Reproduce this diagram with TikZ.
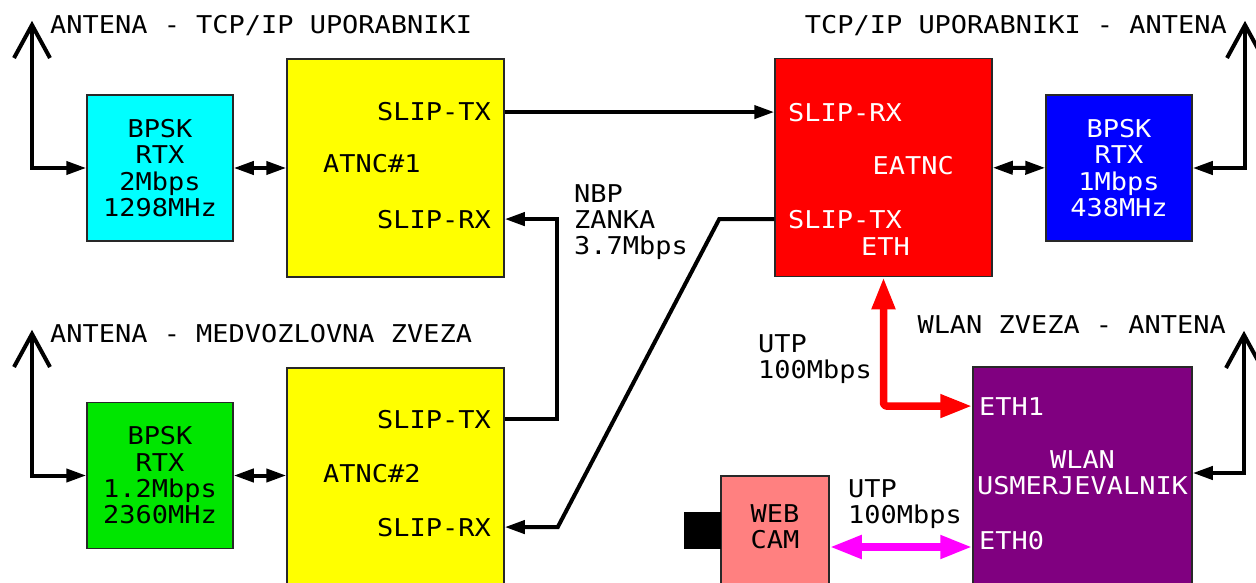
\documentclass[tikz,border=0pt]{standalone}
\usepackage{fontspec}
\setmonofont[FakeStretch=1.1]{DejaVu Sans Mono}
\usetikzlibrary{arrows.meta,calc}
\definecolor{rtxcyan}{RGB}{0,255,255}
\definecolor{tncyellow}{RGB}{255,255,0}
\definecolor{rtxgreen}{RGB}{0,230,0}
\definecolor{rtxblue}{RGB}{0,0,255}
\definecolor{eatncred}{RGB}{255,0,0}
\definecolor{wlanpurple}{RGB}{128,0,128}
\definecolor{camsalmon}{RGB}{255,128,128}
\definecolor{utpmagenta}{RGB}{255,0,255}
\definecolor{boxline}{RGB}{40,40,40}
\begin{document}
\begin{tikzpicture}[x=1pt,y=-1pt,font=\ttfamily\fontsize{24.5}{26.3}\selectfont,
	box/.style={draw=boxline,line width=1.5pt,inner sep=0pt},
	rtx/.style={box,minimum width=146pt,minimum height=146pt,align=center},
	tnc/.style={box,minimum width=217pt,minimum height=218pt},
	lbl/.style={inner sep=0pt},
	wire/.style={line width=4pt,>={Triangle[length=20pt,width=13pt]}},
	eth/.style={line width=7.5pt,line join=round,rounded corners=3pt,>={Triangle[length=32pt,width=22pt]}}]
	\clip (0,0) rectangle (1256,583);
	
	%boxes
	\node[rtx,fill=rtxcyan] (rtx1) at (160,168) {BPSK\\RTX\\2Mbps\\1298MHz};
	\node[tnc,fill=tncyellow] (atnc1) at (395.5,168) {};
	\node[rtx,fill=rtxgreen] (rtx2) at (160,475.5) {BPSK\\RTX\\1.2Mbps\\2360MHz};
	\node[tnc,fill=tncyellow] (atnc2) at (395.5,477) {};
	\node[tnc,fill=eatncred] (eatnc) at (883.5,167.5) {};
	\node[rtx,fill=rtxblue,text=white] (rtx3) at (1119,168) {BPSK\\RTX\\1Mbps\\438MHz};
	\node[box,fill=wlanpurple,minimum width=219pt,minimum height=220pt] (wlan) at (1082.5,477) {};
	\node[box,fill=camsalmon,minimum width=108pt,minimum height=142pt] (cam) at (775,547) {};
	\node[fill=black,minimum width=37pt,minimum height=37pt,inner sep=0pt] (lens) at (702.5,530.5) {};
	
	%ports
	\node[lbl,anchor=base east] (a1tx) at (491,121) {SLIP-TX};
	\node[lbl,anchor=base west] (a1name) at (323,173) {ATNC\#1};
	\node[lbl,anchor=base east] (a1rx) at (491,228) {SLIP-RX};
	\node[lbl,anchor=base east] (a2tx) at (491,428) {SLIP-TX};
	\node[lbl,anchor=base west] (a2name) at (323,482) {ATNC\#2};
	\node[lbl,anchor=base east] (a2rx) at (491,536) {SLIP-RX};
	\node[lbl,white,anchor=base west] (erx) at (788,122) {SLIP-RX};
	\node[lbl,white,anchor=base east] (ename) at (954,175) {EATNC};
	\node[lbl,white,anchor=base west] (etx) at (788,228) {SLIP-TX};
	\node[lbl,white,anchor=base west] (eeth) at (861,255) {ETH};
	\node[lbl,white,anchor=base west] (weth1) at (979,415) {ETH1};
	\node[lbl,white,align=center,anchor=north] (wname) at (1082.5,450) {WLAN\\USMERJEVALNIK};
	\node[lbl,white,anchor=base west] (weth0) at (979,549) {ETH0};
	\node[lbl,align=center,anchor=north] (camname) at (775,504) {WEB\\CAM};
	
	%labels
	\node[lbl,anchor=base west] (t1) at (50,34) {ANTENA - TCP/IP UPORABNIKI};
	\node[lbl,anchor=base east] (t2) at (1227,34) {TCP/IP UPORABNIKI - ANTENA};
	\node[lbl,anchor=base west] (t3) at (50,342) {ANTENA - MEDVOZLOVNA ZVEZA};
	\node[lbl,anchor=base east] (t4) at (1226,333) {WLAN ZVEZA - ANTENA};
	\node[lbl,align=left,anchor=north west] (nbp) at (574,184) {NBP\\ZANKA\\3.7Mbps};
	\node[lbl,align=left,anchor=north west] (utp1) at (758,334) {UTP\\100Mbps};
	\node[lbl,align=left,anchor=north west] (utp2) at (848,479) {UTP\\100Mbps};
	
	%antennas
	\coordinate (ant1) at (32,25);
	\coordinate (ant2) at (32,334);
	\coordinate (ant3) at (1245,25);
	\coordinate (ant4) at (1244,335);
	\draw[wire] (ant1) ++(-18,33) -- (ant1) -- ++(18,33);
	\draw[wire] (ant2) ++(-18,33) -- (ant2) -- ++(18,33);
	\draw[wire] (ant3) ++(-18,33) -- (ant3) -- ++(18,33);
	\draw[wire] (ant4) ++(-18,33) -- (ant4) -- ++(18,33);
	\draw[wire,->] (ant1) |- (rtx1);
	\draw[wire,->] (ant2) |- (rtx2);
	\draw[wire,->] (ant3) |- (rtx3);
	\draw[wire,->] (ant4) |- ([yshift=4pt]wlan.east);
	
	%rtx links
	\draw[wire,<->] (rtx1) -- (atnc1);
	\draw[wire,<->] (rtx2) -- (rtx2 -| atnc2.west);
	\draw[wire,<->] (eatnc) -- (rtx3);
	
	%slip links
	\draw[wire,->] (atnc1.east |- a1tx) -- (eatnc.west |- a1tx);
	\draw[wire,->] (atnc2.east |- a2tx) -- ++(52,0) |- (atnc1.east |- a1rx); %NBP loop
	\draw[wire,->] (eatnc.west |- etx) -- ++(-55,0)
	  -- ($(atnc2.east |- a2rx)+(53,0)$) -- (atnc2.east |- a2rx);
	
	%ethernet
	\draw[eth,eatncred,<->] (eatnc.south) |- (wlan.west |- weth1);
	\draw[eth,utpmagenta,<->] (cam) -- (cam -| wlan.west);
	
\end{tikzpicture}
\end{document}
